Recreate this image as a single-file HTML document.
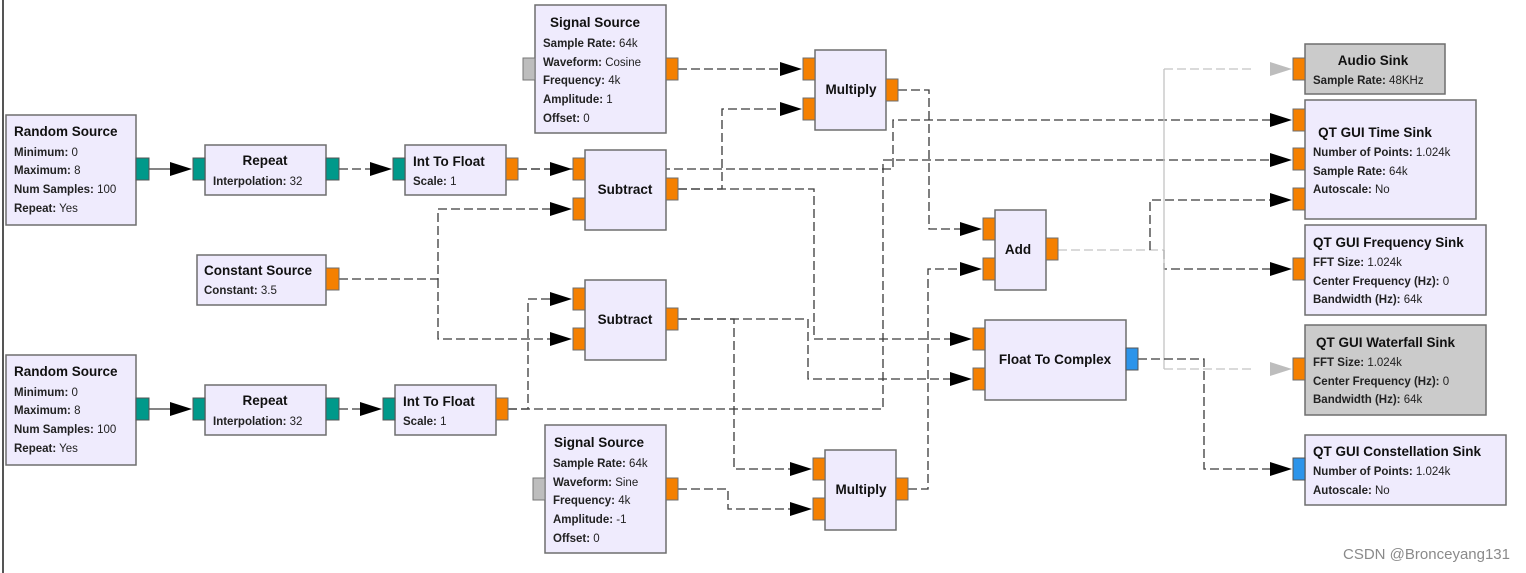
<!DOCTYPE html>
<html><head><meta charset="utf-8"><style>
html,body{margin:0;padding:0;background:#fff;}
svg{display:block;font-family:"Liberation Sans","DejaVu Sans",sans-serif;}
.b{fill:#efebfd;stroke:#6e6e6e;stroke-width:1.5}
.g{fill:#cbcbcb;stroke:#6e6e6e;stroke-width:1.5}
.t{font-size:13.5px;font-weight:bold;fill:#111}
.p{font-size:11.5px;fill:#222}
.p tspan.k{font-weight:bold}
.o{fill:#f58000;stroke:#6e6e6e;stroke-width:1}
.te{fill:#00998a;stroke:#555;stroke-width:1}
.bl{fill:#2c94ea;stroke:#555;stroke-width:1}
.gp{fill:#bdbdbd;stroke:#777;stroke-width:1}
.w{fill:none;stroke:#3a3a3a;stroke-width:1.3;stroke-dasharray:9,4}
.ws{fill:none;stroke:#3a3a3a;stroke-width:1.3}
.wg{fill:none;stroke:#c4c4c4;stroke-width:1.3;stroke-dasharray:9,4}
.wgs{fill:none;stroke:#c4c4c4;stroke-width:1.3}
.a{fill:#000}
.ag{fill:#bdbdbd}
</style></head><body>
<svg width="1526" height="573" viewBox="0 0 1526 573" xmlns="http://www.w3.org/2000/svg">
<line x1="3" y1="0" x2="3" y2="573" stroke="#555" stroke-width="2"/>

<!-- wires -->
<polyline class="ws" points="149,169 175,169"/>
<polyline class="w" points="339,169 375,169"/>
<polyline class="w" points="518,169 555,169"/>
<polyline class="w" points="518,169 893,169 893,120 1275,120"/>
<polyline class="w" points="339,279 438,279 438,209 555,209"/>
<polyline class="w" points="438,279 438,339 555,339"/>
<polyline class="ws" points="149,409 175,409"/>
<polyline class="w" points="339,409 365,409"/>
<polyline class="w" points="508,409 528,409 528,299 555,299"/>
<polyline class="w" points="508,409 883,409 883,160 1275,160"/>
<polyline class="w" points="678,69 782,69"/>
<polyline class="w" points="678,189 722,189 722,109 782,109"/>
<polyline class="w" points="678,189 814,189 814,339 955,339"/>
<polyline class="w" points="898,90 929,90 929,229 962,229"/>
<polyline class="w" points="908,489 928,489 928,269 962,269"/>
<polyline class="w" points="678,319 808,319 808,379 955,379"/>
<polyline class="w" points="678,319 734,319 734,469 795,469"/>
<polyline class="w" points="678,489 728,489 728,509 795,509"/>
<polyline class="wg" points="1058,250 1164,250"/>
<polyline class="w" points="1150,250 1150,200 1275,200"/>
<polyline class="w" points="1164,250 1164,269 1275,269"/>
<polyline class="wg" points="1164,69 1255,69"/>
<polyline class="wgs" points="1164,69 1164,369"/>
<polyline class="wg" points="1164,369 1255,369"/>
<polyline class="w" points="1138,359 1204,359 1204,469 1275,469"/>

<!-- arrows -->
<g class="a">
<polygon points="170,162 192,169 170,176"/>
<polygon points="370,162 392,169 370,176"/>
<polygon points="550,162 572,169 550,176"/>
<polygon points="550,202 572,209 550,216"/>
<polygon points="550,292 572,299 550,306"/>
<polygon points="550,332 572,339 550,346"/>
<polygon points="170,402 192,409 170,416"/>
<polygon points="360,402 382,409 360,416"/>
<polygon points="780,62 802,69 780,76"/>
<polygon points="780,102 802,109 780,116"/>
<polygon points="790,462 812,469 790,476"/>
<polygon points="790,502 812,509 790,516"/>
<polygon points="960,222 982,229 960,236"/>
<polygon points="960,262 982,269 960,276"/>
<polygon points="950,332 972,339 950,346"/>
<polygon points="950,372 972,379 950,386"/>
<polygon points="1270,113 1292,120 1270,127"/>
<polygon points="1270,153 1292,160 1270,167"/>
<polygon points="1270,193 1292,200 1270,207"/>
<polygon points="1270,262 1292,269 1270,276"/>
<polygon points="1270,462 1292,469 1270,476"/>
</g>
<g class="ag">
<polygon points="1270,62 1292,69 1270,76"/>
<polygon points="1270,362 1292,369 1270,376"/>
</g>

<!-- Random Source 1 -->
<rect class="b" x="6" y="115" width="130" height="110"/>
<rect class="te" x="136" y="158" width="13" height="22"/>
<text class="t" x="14" y="136">Random Source</text>
<text class="p" x="14" y="156"><tspan class="k">Minimum:</tspan> 0</text>
<text class="p" x="14" y="174"><tspan class="k">Maximum:</tspan> 8</text>
<text class="p" x="14" y="193"><tspan class="k">Num Samples:</tspan> 100</text>
<text class="p" x="14" y="212"><tspan class="k">Repeat:</tspan> Yes</text>

<!-- Repeat 1 -->
<rect class="b" x="205" y="145" width="121" height="50"/>
<rect class="te" x="193" y="158" width="12" height="22"/>
<rect class="te" x="326" y="158" width="13" height="22"/>
<text class="t" x="265" y="165" text-anchor="middle">Repeat</text>
<text class="p" x="213" y="185"><tspan class="k">Interpolation:</tspan> 32</text>

<!-- Int To Float 1 -->
<rect class="b" x="405" y="145" width="101" height="50"/>
<rect class="te" x="393" y="158" width="12" height="22"/>
<rect class="o" x="506" y="158" width="12" height="22"/>
<text class="t" x="413" y="166">Int To Float</text>
<text class="p" x="413" y="185"><tspan class="k">Scale:</tspan> 1</text>

<!-- Signal Source top -->
<rect class="b" x="535" y="5" width="131" height="128"/>
<rect class="gp" x="523" y="58" width="12" height="22"/>
<rect class="o" x="666" y="58" width="12" height="22"/>
<text class="t" x="550" y="27">Signal Source</text>
<text class="p" x="543" y="47"><tspan class="k">Sample Rate:</tspan> 64k</text>
<text class="p" x="543" y="66"><tspan class="k">Waveform:</tspan> Cosine</text>
<text class="p" x="543" y="84"><tspan class="k">Frequency:</tspan> 4k</text>
<text class="p" x="543" y="103"><tspan class="k">Amplitude:</tspan> 1</text>
<text class="p" x="543" y="122"><tspan class="k">Offset:</tspan> 0</text>

<!-- Multiply top -->
<rect class="b" x="815" y="50" width="71" height="80"/>
<rect class="o" x="803" y="58" width="12" height="22"/>
<rect class="o" x="803" y="98" width="12" height="22"/>
<rect class="o" x="886" y="79" width="12" height="22"/>
<text class="t" x="851" y="94" text-anchor="middle">Multiply</text>

<!-- Subtract top -->
<rect class="b" x="585" y="150" width="81" height="80"/>
<rect class="o" x="573" y="158" width="12" height="22"/>
<rect class="o" x="573" y="198" width="12" height="22"/>
<rect class="o" x="666" y="178" width="12" height="22"/>
<text class="t" x="625" y="194" text-anchor="middle">Subtract</text>

<!-- Constant Source -->
<rect class="b" x="197" y="255" width="129" height="50"/>
<rect class="o" x="326" y="268" width="13" height="22"/>
<text class="t" x="204" y="275">Constant Source</text>
<text class="p" x="204" y="294"><tspan class="k">Constant:</tspan> 3.5</text>

<!-- Subtract bottom -->
<rect class="b" x="585" y="280" width="81" height="80"/>
<rect class="o" x="573" y="288" width="12" height="22"/>
<rect class="o" x="573" y="328" width="12" height="22"/>
<rect class="o" x="666" y="308" width="12" height="22"/>
<text class="t" x="625" y="324" text-anchor="middle">Subtract</text>

<!-- Random Source 2 -->
<rect class="b" x="6" y="355" width="130" height="110"/>
<rect class="te" x="136" y="398" width="13" height="22"/>
<text class="t" x="14" y="376">Random Source</text>
<text class="p" x="14" y="396"><tspan class="k">Minimum:</tspan> 0</text>
<text class="p" x="14" y="414"><tspan class="k">Maximum:</tspan> 8</text>
<text class="p" x="14" y="433"><tspan class="k">Num Samples:</tspan> 100</text>
<text class="p" x="14" y="452"><tspan class="k">Repeat:</tspan> Yes</text>

<!-- Repeat 2 -->
<rect class="b" x="205" y="385" width="121" height="50"/>
<rect class="te" x="193" y="398" width="12" height="22"/>
<rect class="te" x="326" y="398" width="13" height="22"/>
<text class="t" x="265" y="405" text-anchor="middle">Repeat</text>
<text class="p" x="213" y="425"><tspan class="k">Interpolation:</tspan> 32</text>

<!-- Int To Float 2 -->
<rect class="b" x="395" y="385" width="101" height="50"/>
<rect class="te" x="383" y="398" width="12" height="22"/>
<rect class="o" x="496" y="398" width="12" height="22"/>
<text class="t" x="403" y="406">Int To Float</text>
<text class="p" x="403" y="425"><tspan class="k">Scale:</tspan> 1</text>

<!-- Signal Source bottom -->
<rect class="b" x="545" y="425" width="121" height="128"/>
<rect class="gp" x="533" y="478" width="12" height="22"/>
<rect class="o" x="666" y="478" width="12" height="22"/>
<text class="t" x="554" y="447">Signal Source</text>
<text class="p" x="553" y="467"><tspan class="k">Sample Rate:</tspan> 64k</text>
<text class="p" x="553" y="486"><tspan class="k">Waveform:</tspan> Sine</text>
<text class="p" x="553" y="504"><tspan class="k">Frequency:</tspan> 4k</text>
<text class="p" x="553" y="523"><tspan class="k">Amplitude:</tspan> -1</text>
<text class="p" x="553" y="542"><tspan class="k">Offset:</tspan> 0</text>

<!-- Multiply bottom -->
<rect class="b" x="825" y="450" width="71" height="80"/>
<rect class="o" x="813" y="458" width="12" height="22"/>
<rect class="o" x="813" y="498" width="12" height="22"/>
<rect class="o" x="896" y="478" width="12" height="22"/>
<text class="t" x="861" y="494" text-anchor="middle">Multiply</text>

<!-- Add -->
<rect class="b" x="995" y="210" width="51" height="80"/>
<rect class="o" x="983" y="218" width="12" height="22"/>
<rect class="o" x="983" y="258" width="12" height="22"/>
<rect class="o" x="1046" y="238" width="12" height="22"/>
<text class="t" x="1018" y="254" text-anchor="middle">Add</text>

<!-- Float To Complex -->
<rect class="b" x="985" y="320" width="141" height="80"/>
<rect class="o" x="973" y="328" width="12" height="22"/>
<rect class="o" x="973" y="368" width="12" height="22"/>
<rect class="bl" x="1126" y="348" width="12" height="22"/>
<text class="t" x="1055" y="364" text-anchor="middle">Float To Complex</text>

<!-- Audio Sink -->
<rect class="g" x="1305" y="44" width="140" height="50"/>
<rect class="o" x="1293" y="58" width="12" height="22"/>
<text class="t" x="1373" y="65" text-anchor="middle">Audio Sink</text>
<text class="p" x="1313" y="84"><tspan class="k">Sample Rate:</tspan> 48KHz</text>

<!-- Time Sink -->
<rect class="b" x="1305" y="100" width="171" height="119"/>
<rect class="o" x="1293" y="109" width="12" height="22"/>
<rect class="o" x="1293" y="148" width="12" height="22"/>
<rect class="o" x="1293" y="188" width="12" height="22"/>
<text class="t" x="1375" y="137" text-anchor="middle">QT GUI Time Sink</text>
<text class="p" x="1313" y="156"><tspan class="k">Number of Points:</tspan> 1.024k</text>
<text class="p" x="1313" y="175"><tspan class="k">Sample Rate:</tspan> 64k</text>
<text class="p" x="1313" y="193"><tspan class="k">Autoscale:</tspan> No</text>

<!-- Freq Sink -->
<rect class="b" x="1305" y="225" width="181" height="90"/>
<rect class="o" x="1293" y="258" width="12" height="22"/>
<text class="t" x="1313" y="247">QT GUI Frequency Sink</text>
<text class="p" x="1313" y="266"><tspan class="k">FFT Size:</tspan> 1.024k</text>
<text class="p" x="1313" y="285"><tspan class="k">Center Frequency (Hz):</tspan> 0</text>
<text class="p" x="1313" y="303"><tspan class="k">Bandwidth (Hz):</tspan> 64k</text>

<!-- Waterfall Sink -->
<rect class="g" x="1305" y="325" width="181" height="90"/>
<rect class="o" x="1293" y="358" width="12" height="22"/>
<text class="t" x="1316" y="347">QT GUI Waterfall Sink</text>
<text class="p" x="1313" y="366"><tspan class="k">FFT Size:</tspan> 1.024k</text>
<text class="p" x="1313" y="385"><tspan class="k">Center Frequency (Hz):</tspan> 0</text>
<text class="p" x="1313" y="403"><tspan class="k">Bandwidth (Hz):</tspan> 64k</text>

<!-- Constellation Sink -->
<rect class="b" x="1305" y="435" width="201" height="70"/>
<rect class="bl" x="1293" y="458" width="12" height="22"/>
<text class="t" x="1313" y="456">QT GUI Constellation Sink</text>
<text class="p" x="1313" y="475"><tspan class="k">Number of Points:</tspan> 1.024k</text>
<text class="p" x="1313" y="494"><tspan class="k">Autoscale:</tspan> No</text>

<text x="1510" y="559" text-anchor="end" font-size="15" fill="#8a8a8a">CSDN @Bronceyang131</text>
</svg>
</body></html>
